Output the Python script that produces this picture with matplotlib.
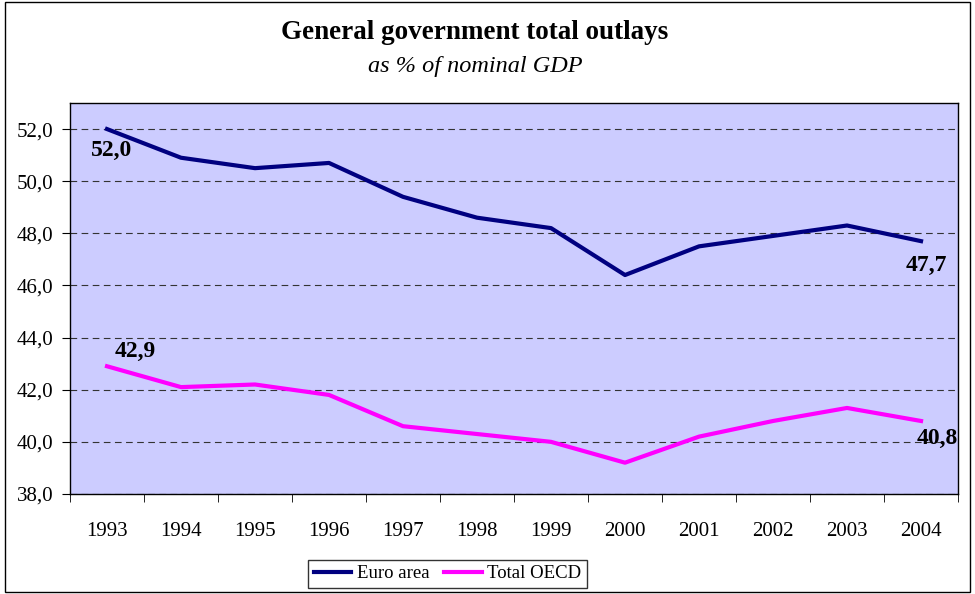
import matplotlib.pyplot as plt
from matplotlib.patches import Rectangle
import numpy as np

years = ['1993', '1994', '1995', '1996', '1997', '1998', '1999', '2000', '2001', '2002', '2003', '2004']
euro_area = [52.0, 50.9, 50.5, 50.7, 49.4, 48.6, 48.2, 46.4, 47.5, 47.9, 48.3, 47.7]
total_oecd = [42.9, 42.1, 42.2, 41.8, 40.6, 40.3, 40.0, 39.2, 40.2, 40.8, 41.3, 40.8]

plt.rcParams['font.family'] = ['Liberation Serif', 'DejaVu Serif']

fig = plt.figure(figsize=(9.75, 5.94), dpi=100)
ax = fig.add_axes([0.0718, 0.1684, 0.9108, 0.6582])
ax.set_facecolor('#CCCCFF')

x = np.arange(len(years))
ax.plot(x, euro_area, color='#000080', lw=3, label='Euro area')
ax.plot(x, total_oecd, color='#FF00FF', lw=3, label='Total OECD')


def fmt(v):
    return f"{v:.1f}".replace('.', ',')


# end labels
ax.annotate(fmt(euro_area[0]), (x[0], euro_area[0]), xytext=(3, -8),
            textcoords='offset points', ha='center', va='top', fontsize=17, fontweight='bold')
ax.annotate(fmt(euro_area[-1]), (x[-1], euro_area[-1]), xytext=(4, -10),
            textcoords='offset points', ha='center', va='top', fontsize=17, fontweight='bold')
ax.annotate(fmt(total_oecd[0]), (x[0], total_oecd[0]), xytext=(20, 3),
            textcoords='offset points', ha='center', va='bottom', fontsize=17, fontweight='bold')
ax.annotate(fmt(total_oecd[-1]), (x[-1], total_oecd[-1]), xytext=(12, -5),
            textcoords='offset points', ha='center', va='top', fontsize=17, fontweight='bold')

ax.set_xlim(-0.5, len(years) - 0.5)
ax.set_ylim(38, 53)
yt = np.arange(38, 53, 2)
ax.set_yticks(yt)
ax.set_yticklabels([fmt(v) for v in yt], fontsize=15)
ax.yaxis.grid(True, color='#333333', linestyle=(0, (6, 4)), lw=0.8)
ax.set_axisbelow(True)

ax.set_xticks(x)
ax.set_xticklabels(years, fontsize=15)
ax.tick_params(axis='x', which='major', length=0, pad=20)
ax.set_xticks(np.arange(-0.5, len(years), 1), minor=True)
ax.tick_params(axis='x', which='minor', length=6, direction='out')
ax.tick_params(axis='y', length=6, direction='out', pad=6)

for s in ax.spines.values():
    s.set_linewidth(1)

fig.text(0.487, 0.945, 'General government total outlays', ha='center', va='center',
         fontsize=19.5, fontweight='bold')
fig.text(0.487, 0.888, 'as % of nominal GDP', ha='center', va='center',
         fontsize=17.5, style='italic')

leg = fig.legend(loc='center', bbox_to_anchor=(0.459, 0.034), ncol=2, fontsize=13.5,
                 frameon=True, fancybox=False, edgecolor='black', handlelength=2.0,
                 handletextpad=0.3, columnspacing=0.8, borderpad=0.3)
leg.get_frame().set_linewidth(1)

fig.patches.append(Rectangle((0.005, 0.004), 0.99, 0.992, transform=fig.transFigure,
                             fill=False, edgecolor='black', lw=1))

fig.savefig('out.png', dpi=100)
